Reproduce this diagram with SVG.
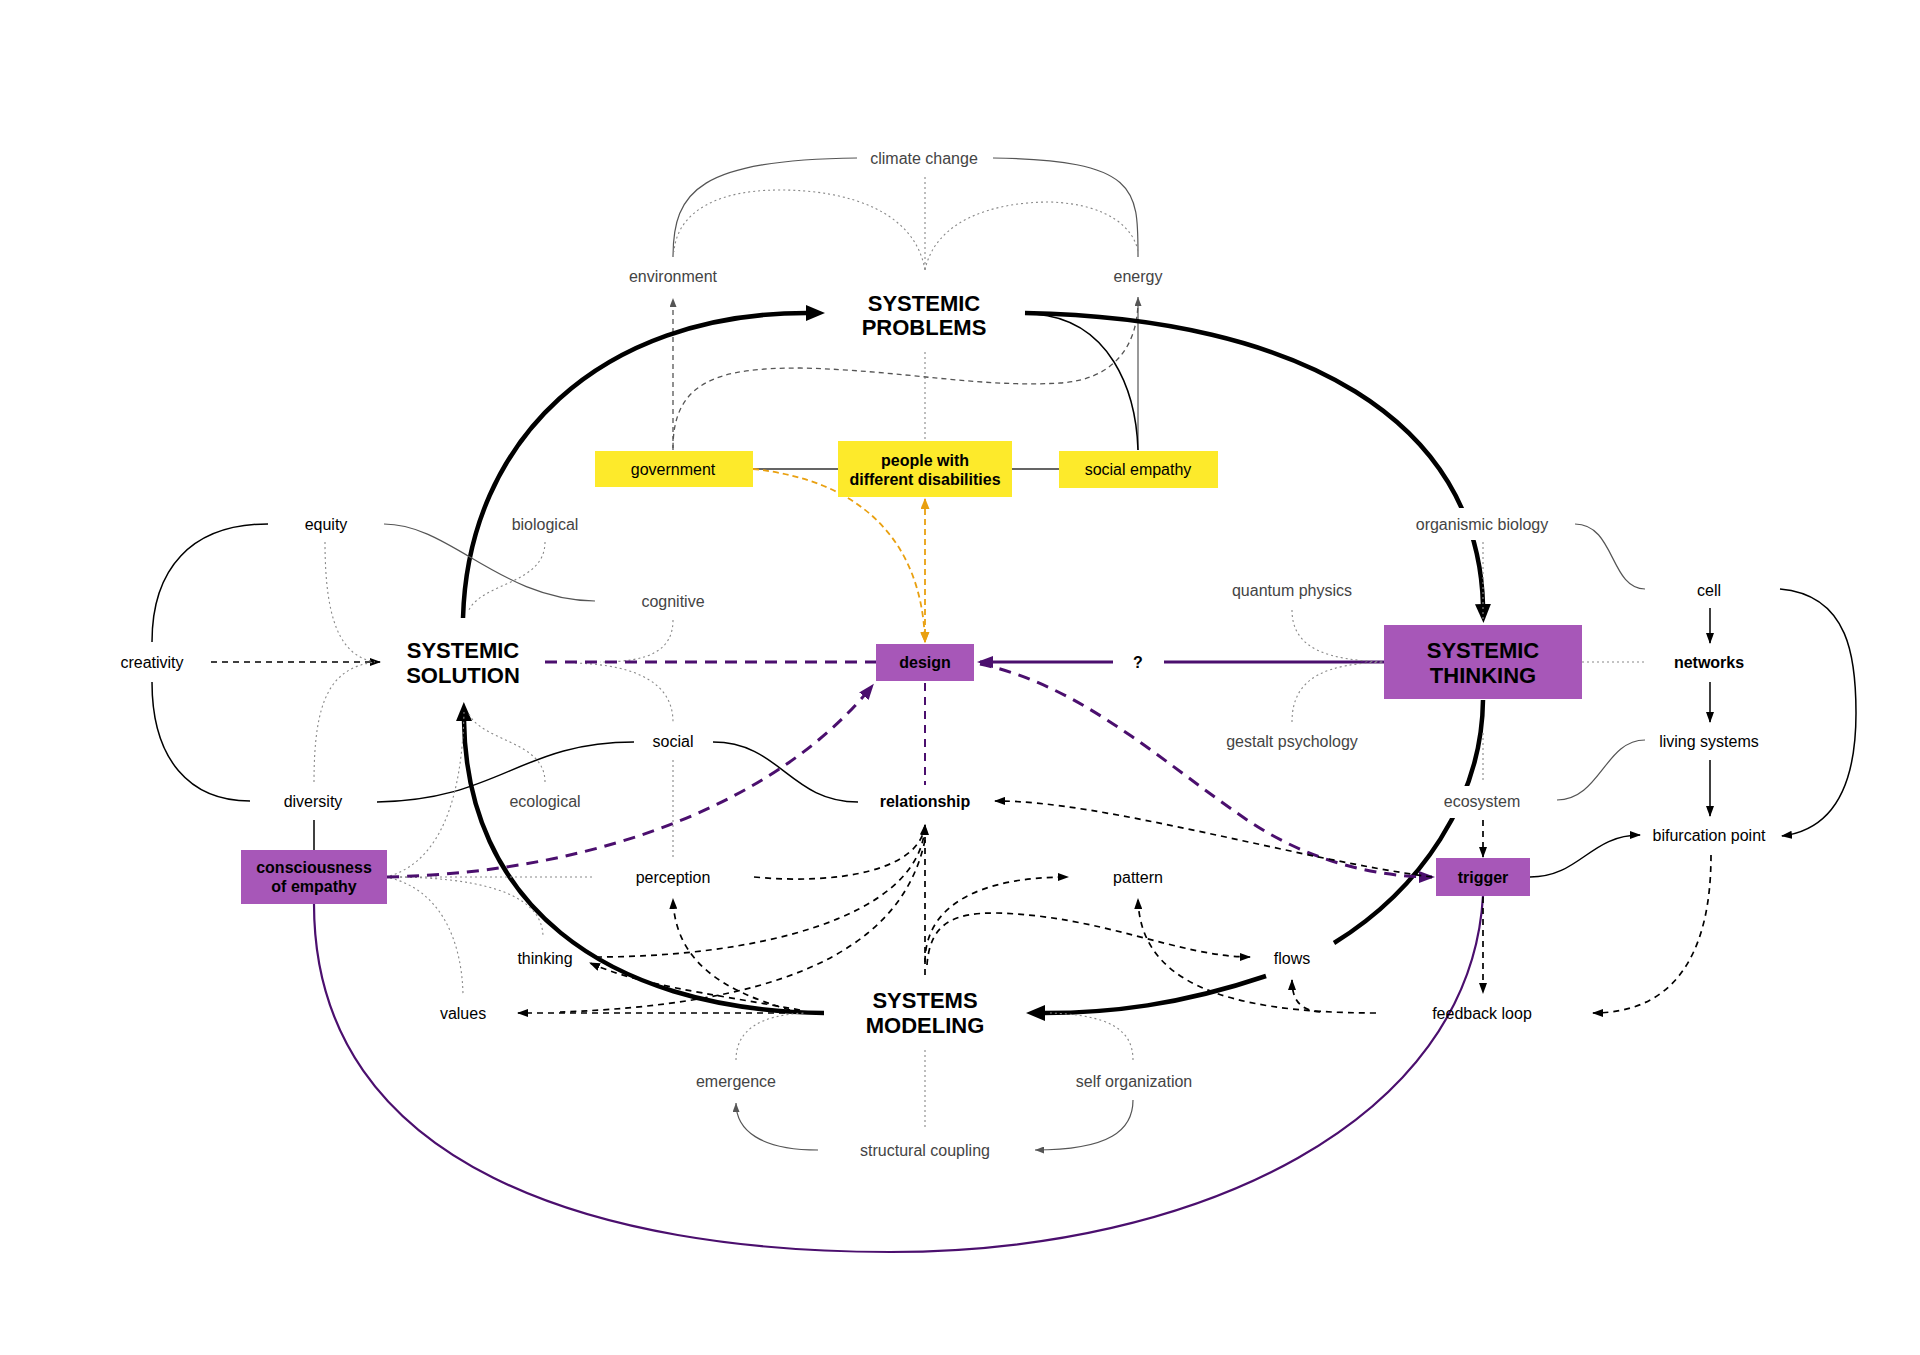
<svg xmlns="http://www.w3.org/2000/svg" width="1920" height="1355" viewBox="0 0 1920 1355">
<defs>
<style>
text{font-family:"Liberation Sans",Arial,sans-serif;text-anchor:middle;font-size:16px;fill:#000}
.g{fill:#444}
.b{font-weight:bold}
.t{font-weight:bold;font-size:22px}
.thin{fill:none;stroke:#555;stroke-width:1.2}
.blk{fill:none;stroke:#000;stroke-width:1.5}
.dot{fill:none;stroke:#888;stroke-width:1.1;stroke-dasharray:2 3}
.gdash{fill:none;stroke:#555;stroke-width:1.3;stroke-dasharray:5 4}
.dash{fill:none;stroke:#000;stroke-width:1.7;stroke-dasharray:6 5}
.thick{fill:none;stroke:#000;stroke-width:4.5}
.pd{fill:none;stroke:#4b0f6e;stroke-width:3;stroke-dasharray:12 8}
.ps{fill:none;stroke:#4b0f6e;stroke-width:3}
.arc{fill:none;stroke:#4b0f6e;stroke-width:2.2}
.od{fill:none;stroke:#e9a010;stroke-width:1.8;stroke-dasharray:6 4}
.yb{fill:#fdea2b}
.pb{fill:#a757b8}
.bg{fill:#fff}
</style>
<marker id="ak" markerUnits="userSpaceOnUse" markerWidth="11" markerHeight="8" refX="10" refY="4" orient="auto"><path d="M0,0 L11,4 L0,8 z" fill="#000"/></marker>
<marker id="ag" markerUnits="userSpaceOnUse" markerWidth="9" markerHeight="7" refX="9" refY="3.5" orient="auto"><path d="M0,0 L9,3.5 L0,7 z" fill="#555"/></marker>
<marker id="ab" markerUnits="userSpaceOnUse" markerWidth="20" markerHeight="16" refX="1" refY="8" orient="auto"><path d="M0,0 L19,8 L0,16 z" fill="#000"/></marker>
<marker id="ap" markerUnits="userSpaceOnUse" markerWidth="16" markerHeight="12" refX="13" refY="6" orient="auto"><path d="M0,0 L16,6 L0,12 z" fill="#4b0f6e"/></marker>
<marker id="ao" markerUnits="userSpaceOnUse" markerWidth="11" markerHeight="9" refX="10" refY="4.5" orient="auto-start-reverse"><path d="M0,0 L11,4.5 L0,9 z" fill="#e9a010"/></marker>
</defs>
<rect width="1920" height="1355" fill="#fff"/>

<g id="connectors">
<!-- top: climate change -->
<path class="thin" d="M857,158 C700,160 673,190 673,257"/>
<path class="thin" d="M993,158 C1140,160 1138,190 1138,257"/>
<path class="dot" d="M925,177 L925,272"/>
<path class="dot" d="M925,270 C915,212 850,190 780,190 C705,190 676,220 674,252"/>
<path class="dot" d="M925,270 C935,222 990,202 1050,202 C1110,204 1135,230 1138,252"/>
<path class="dot" d="M925,352 L925,440"/>
<path class="gdash" d="M673,450 L673,298" marker-end="url(#ag)"/>
<path class="gdash" d="M673,448 C673,380 720,368 800,368 C900,370 980,388 1060,383 C1110,380 1138,350 1138,300"/>
<path class="thin" d="M1138,450 L1138,297" marker-end="url(#ag)"/>
<path class="blk" d="M1035,314 C1110,320 1136,390 1138,450"/>
<path class="blk" style="stroke:#333" d="M753,469 L838,469 M1012,469 L1059,469"/>
<!-- orange -->
<path class="od" d="M753,469 C860,480 922,540 925,642" marker-end="url(#ao)"/>
<path class="od" d="M925,499 L925,642" marker-start="url(#ao)" marker-end="url(#ao)"/>
<!-- thick loop -->
<path class="thick" d="M463,618 C468,440 600,313 807,313" marker-end="url(#ab)"/>
<path class="thick" d="M1025,313 C1300,318 1478,420 1483,605" marker-end="url(#ab)"/>
<path class="thick" d="M1483,700 C1482,800 1420,890 1334,943"/>
<path class="thick" d="M1266,976 C1180,1005 1110,1013 1044,1013" marker-end="url(#ab)"/>
<path class="thick" d="M824,1013 C600,1010 466,900 464,720" marker-end="url(#ab)"/>
<!-- left cluster -->
<path class="blk" d="M268,524 C190,524 152,570 152,642"/>
<path class="blk" d="M152,682 C152,760 190,801 250,801"/>
<path class="thin" d="M384,524 C450,524 500,600 595,601"/>
<path class="blk" d="M377,802 C500,800 520,742 634,742"/>
<path class="blk" d="M713,742 C780,742 790,802 858,802"/>
<path class="blk" d="M314,820 L314,850"/>
<path class="dash" d="M211,662 L380,662" marker-end="url(#ak)"/>
<path class="dot" d="M325,542 C325,620 340,656 375,662"/>
<path class="dot" d="M314,782 C314,700 330,668 375,662"/>
<path class="dot" d="M545,542 C545,585 480,582 468,612"/>
<path class="dot" d="M673,620 C673,650 650,662 600,662"/>
<path class="dot" d="M575,663 C640,665 673,685 673,722"/>
<path class="dot" d="M545,782 C545,740 480,742 468,712"/>
<path class="dot" d="M673,760 L673,857"/>
<path class="dot" d="M390,877 L593,877"/>
<path class="dot" d="M390,876 C440,860 462,800 464,712"/>
<path class="dot" d="M390,878 C440,890 462,940 463,995"/>
<path class="dot" d="M390,877 C470,877 543,890 543,937"/>
<!-- purple -->
<path class="pd" d="M545,662 L876,662"/>
<path class="ps" d="M1384,662 L1164,662"/>
<path class="ps" d="M1113,662 L980,662" marker-end="url(#ap)"/>
<path class="pd" d="M387,877 C610,872 785,795 872,686" marker-end="url(#ap)"/>
<path class="pd" d="M980,664 C1080,685 1160,760 1240,815 C1300,858 1370,877 1432,877" marker-end="url(#ap)"/>
<path class="pd" style="stroke-width:2;stroke-dasharray:8 6" d="M925,683 L925,785"/>
<path class="arc" d="M314,904 C314,1170 600,1252 890,1252 C1200,1252 1470,1120 1483,896"/>
<!-- middle dashed -->
<path class="dash" d="M754,877 C840,885 920,870 925,825" marker-end="url(#ak)"/>
<path class="dash" d="M596,957 C750,957 920,920 925,826"/>
<path class="dash" d="M800,1010 C700,992 640,985 590,963" marker-end="url(#ak)"/>
<path class="dash" d="M785,1013 L518,1013" marker-end="url(#ak)"/>
<path class="dash" d="M925,840 C900,960 760,1005 560,1012"/>
<path class="dash" d="M790,1010 C720,990 675,960 673,899" marker-end="url(#ak)"/>
<path class="dash" d="M925,975 L925,825" marker-end="url(#ak)"/>
<path class="dash" d="M925,962 C925,905 980,877 1068,877" marker-end="url(#ak)"/>
<path class="dash" d="M927,965 C930,922 955,913 995,913 C1100,915 1180,957 1250,957" marker-end="url(#ak)"/>
<path class="dash" d="M1376,1013 C1220,1013 1140,980 1138,899" marker-end="url(#ak)"/>
<path class="dash" d="M1320,1012 C1300,1010 1292,1000 1292,980" marker-end="url(#ak)"/>
<path class="dash" d="M1432,877 C1300,860 1100,800 995,801" marker-end="url(#ak)"/>
<!-- right cluster -->
<path class="thin" d="M1575,524 C1615,524 1610,589 1645,589"/>
<path class="dot" d="M1483,542 L1483,622"/>
<path class="dot" d="M1483,733 L1483,782"/>
<path class="dot" d="M1292,610 C1292,650 1330,660 1384,662"/>
<path class="dot" d="M1292,722 C1292,675 1330,664 1384,662"/>
<path class="dot" d="M1582,662 L1645,662"/>
<path class="blk" d="M1710,608 L1710,643" marker-end="url(#ak)"/>
<path class="blk" d="M1710,682 L1710,722" marker-end="url(#ak)"/>
<path class="blk" d="M1710,760 L1710,816" marker-end="url(#ak)"/>
<path class="blk" d="M1780,589 C1850,595 1856,660 1856,713 C1856,790 1830,830 1782,836" marker-end="url(#ak)"/>
<path class="thin" d="M1557,800 C1600,800 1605,740 1645,740"/>
<path class="dash" d="M1483,820 L1483,857" marker-end="url(#ak)"/>
<path class="blk" d="M1530,877 C1580,877 1590,835 1640,835" marker-end="url(#ak)"/>
<path class="dash" d="M1483,897 L1483,993" marker-end="url(#ak)"/>
<path class="dash" d="M1711,855 C1711,960 1670,1013 1593,1013" marker-end="url(#ak)"/>
<!-- bottom -->
<path class="dot" d="M736,1060 C736,1030 760,1015 805,1013"/>
<path class="dot" d="M1133,1060 C1133,1030 1110,1015 1050,1013"/>
<path class="dot" d="M925,1050 L925,1130"/>
<path class="thin" d="M818,1150 C760,1150 736,1130 736,1103" marker-end="url(#ag)"/>
<path class="thin" d="M1133,1100 C1133,1130 1110,1150 1035,1150" marker-end="url(#ag)"/>
</g>

<g id="climate-change"><text class="g" x="924" y="164">climate change</text></g>
<g id="environment"><text class="g" x="673" y="282">environment</text></g>
<g id="energy"><text class="g" x="1138" y="282">energy</text></g>
<g id="systemic-problems"><text class="t" x="924" y="311">SYSTEMIC</text><text class="t" x="924" y="335">PROBLEMS</text></g>
<g id="government"><rect class="yb" x="595" y="451" width="158" height="36"/><text x="673" y="475">government</text></g>
<g id="people"><rect class="yb" x="838" y="441" width="174" height="56"/><text class="b" x="925" y="466">people with</text><text class="b" x="925" y="485">different disabilities</text></g>
<g id="social-empathy"><rect class="yb" x="1059" y="451" width="159" height="37"/><text x="1138" y="475">social empathy</text></g>
<g id="equity"><text x="326" y="530">equity</text></g>
<g id="biological"><text class="g" x="545" y="530">biological</text></g>
<g id="organismic-biology"><rect class="bg" x="1410" y="508" width="146" height="32"/><text class="g" x="1482" y="530">organismic biology</text></g>
<g id="cognitive"><text class="g" x="673" y="607">cognitive</text></g>
<g id="quantum-physics"><text class="g" x="1292" y="596">quantum physics</text></g>
<g id="cell"><text x="1709" y="596">cell</text></g>
<g id="creativity"><text x="152" y="668">creativity</text></g>
<g id="systemic-solution"><text class="t" x="463" y="658">SYSTEMIC</text><text class="t" x="463" y="683">SOLUTION</text></g>
<g id="design"><rect class="pb" x="876" y="644" width="98" height="37"/><text class="b" x="925" y="668">design</text></g>
<g id="question"><text class="b" x="1138" y="668">?</text></g>
<g id="systemic-thinking"><rect class="pb" x="1384" y="625" width="198" height="74"/><text class="t" x="1483" y="658">SYSTEMIC</text><text class="t" x="1483" y="683">THINKING</text></g>
<g id="networks"><text class="b" x="1709" y="668">networks</text></g>
<g id="social"><text x="673" y="747">social</text></g>
<g id="gestalt-psychology"><text class="g" x="1292" y="747">gestalt psychology</text></g>
<g id="living-systems"><text x="1709" y="747">living systems</text></g>
<g id="diversity"><text x="313" y="807">diversity</text></g>
<g id="ecological"><text class="g" x="545" y="807">ecological</text></g>
<g id="relationship"><text class="b" x="925" y="807">relationship</text></g>
<g id="ecosystem"><rect class="bg" x="1432" y="786" width="102" height="32"/><text class="g" x="1482" y="807">ecosystem</text></g>
<g id="bifurcation-point"><text x="1709" y="841">bifurcation point</text></g>
<g id="consciousness-of-empathy"><rect class="pb" x="241" y="850" width="146" height="54"/><text class="b" x="314" y="873">consciousness</text><text class="b" x="314" y="892">of empathy</text></g>
<g id="perception"><text x="673" y="883">perception</text></g>
<g id="pattern"><text x="1138" y="883">pattern</text></g>
<g id="trigger"><rect class="pb" x="1436" y="858" width="94" height="38"/><text class="b" x="1483" y="883">trigger</text></g>
<g id="thinking"><text x="545" y="964">thinking</text></g>
<g id="flows"><text x="1292" y="964">flows</text></g>
<g id="values"><text x="463" y="1019">values</text></g>
<g id="systems-modeling"><text class="t" x="925" y="1008">SYSTEMS</text><text class="t" x="925" y="1033">MODELING</text></g>
<g id="feedback-loop"><text x="1482" y="1019">feedback loop</text></g>
<g id="emergence"><text class="g" x="736" y="1087">emergence</text></g>
<g id="self-organization"><text class="g" x="1134" y="1087">self organization</text></g>
<g id="structural-coupling"><text class="g" x="925" y="1156">structural coupling</text></g>
</svg>
